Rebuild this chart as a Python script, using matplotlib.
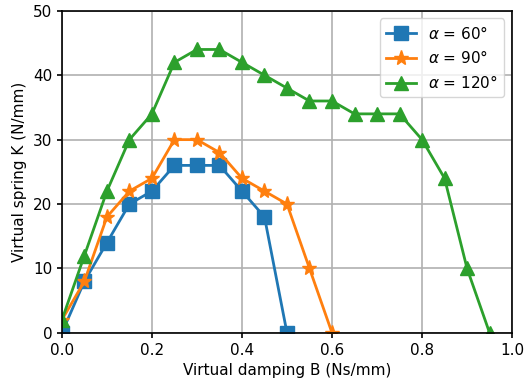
import numpy as np
import matplotlib
matplotlib.use('Agg')
import matplotlib.pyplot as plt

# damping values (Ns/mm) and spring values (N/mm) for each angle
b_60 = [0, 0.05, 0.1, 0.15, 0.2, 0.25, 0.3, 0.35, 0.4, 0.45, 0.5]
k_60 = [0, 8, 14, 20, 22, 26, 26, 26, 22, 18, 0]

b_90 = [0, 0.05, 0.1, 0.15, 0.2, 0.25, 0.3, 0.35, 0.4, 0.45, 0.5, 0.55, 0.6]
k_90 = [2, 8, 18, 22, 24, 30, 30, 28, 24, 22, 20, 10, 0]

b_120 = [0, 0.05, 0.1, 0.15, 0.2, 0.25, 0.3, 0.35, 0.4, 0.45, 0.5,
         0.55, 0.6, 0.65, 0.7, 0.75, 0.8, 0.85, 0.9, 0.95]
k_120 = [2, 12, 22, 30, 34, 42, 44, 44, 42, 40, 38,
         36, 36, 34, 34, 34, 30, 24, 10, 0]

plt.rcParams['font.size'] = 11

fig = plt.figure(figsize=(5.29, 3.87), dpi=100)
ax = fig.add_axes([0.117, 0.140, 0.851, 0.832])

ax.plot(b_60, k_60, '-s', color='#1f77b4', lw=2, ms=10, label=r'$\alpha$ = 60°')
ax.plot(b_90, k_90, '-*', color='#ff7f0e', lw=2, ms=11, label=r'$\alpha$ = 90°')
ax.plot(b_120, k_120, '-^', color='#2ca02c', lw=2, ms=10, label=r'$\alpha$ = 120°')

ax.set_xlim(0, 1.0)
ax.set_ylim(0, 50)
ax.set_xlabel('Virtual damping B (Ns/mm)')
ax.set_ylabel('Virtual spring K (N/mm)')
ax.grid(True, color='#b0b0b0', lw=1.2)
for s in ax.spines.values():
    s.set_linewidth(1.2)
ax.tick_params(width=1.2)
ax.legend(loc='upper right', fontsize=11)

fig.savefig('out.png', dpi=100)
